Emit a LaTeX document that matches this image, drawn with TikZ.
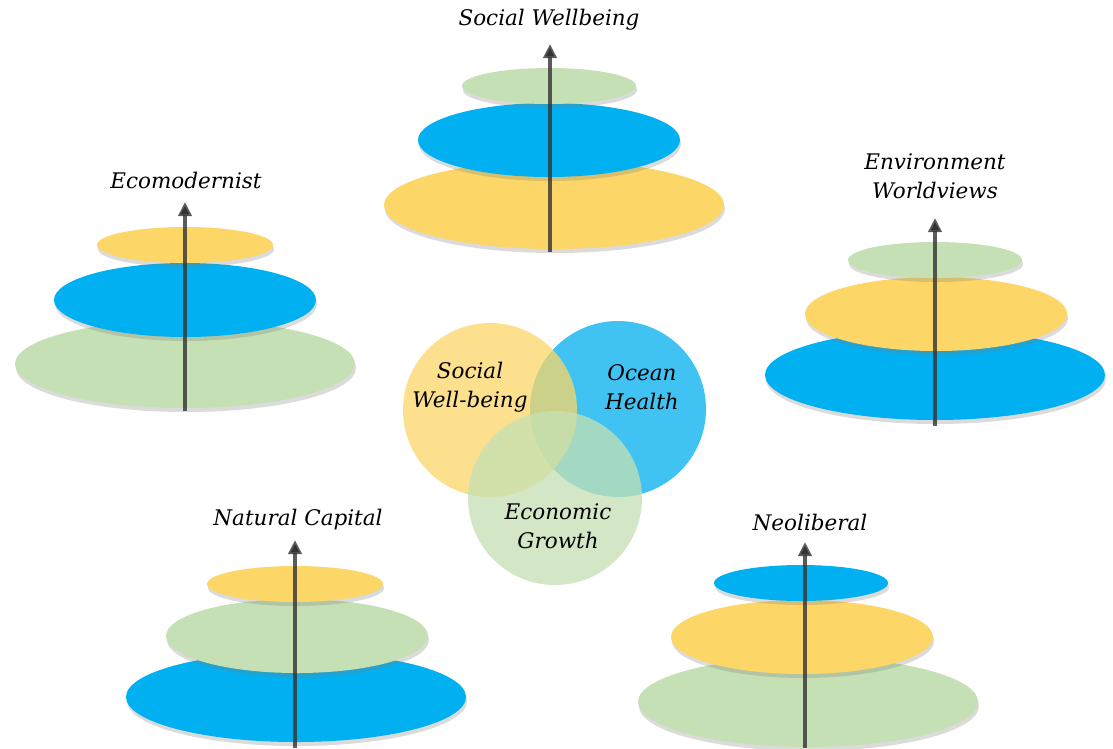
\documentclass[tikz,border=0pt]{standalone}
\usepackage{fontspec}
\setmainfont{DejaVu Serif}
\usetikzlibrary{arrows.meta,shadows}
\definecolor{discyellow}{HTML}{FCD667}
\definecolor{discblue}{HTML}{00B0F0}
\definecolor{discgreen}{HTML}{C5E0B4}
\definecolor{axisgray}{HTML}{333333}
\tikzset{
  disc/.style={drop shadow={opacity=0.28,shadow xshift=1pt,shadow yshift=-4pt}},
  axis/.style={draw=axisgray, line width=3.5pt, draw opacity=0.8, -{Triangle[length=14pt,width=13pt]}},
  title/.style={font=\fontsize{21.5}{29}\selectfont\itshape, align=center, inner sep=0pt},
  venn/.style={fill opacity=0.75},
}
\begin{document}
\begin{tikzpicture}[x=1pt,y=-1pt]
\useasboundingbox (0,0) rectangle (1113,748);
\fill[white] (0,0) rectangle (1113,748);

\fill[discyellow, disc] (554,205) ellipse (170pt and 44pt);
\fill[discblue, disc] (549,140) ellipse (131pt and 37pt);
\fill[discgreen, disc] (549,86) ellipse (87pt and 18pt);
\coordinate (sw-base) at (550,252);
\coordinate (sw-tip) at (550,44);
\draw[axis] (sw-base) -- (sw-tip);
\node[title] (sw-label) at (549,20) {Social Wellbeing};

\fill[discgreen, disc] (185,364) ellipse (170pt and 44pt);
\fill[discblue, disc] (185,300) ellipse (131pt and 37pt);
\fill[discyellow, disc] (185,245) ellipse (88pt and 18pt);
\coordinate (em-base) at (185,411);
\coordinate (em-tip) at (185,202);
\draw[axis] (em-base) -- (em-tip);
\node[title] (em-label) at (186,180) {Ecomodernist};

\fill[discblue, disc] (935,375) ellipse (170pt and 45pt);
\fill[discyellow, disc] (936,314) ellipse (131pt and 37pt);
\fill[discgreen, disc] (935,260) ellipse (87pt and 18pt);
\coordinate (ew-base) at (935,426);
\coordinate (ew-tip) at (935,218);
\draw[axis] (ew-base) -- (ew-tip);
\node[title] (ew-label) at (935,176) {Environment\\Worldviews};

\fill[discblue, disc] (296,697) ellipse (170pt and 45pt);
\fill[discgreen, disc] (297,636) ellipse (131pt and 37pt);
\fill[discyellow, disc] (295,584) ellipse (88pt and 18pt);
\coordinate (nc-base) at (295,748);
\coordinate (nc-tip) at (295,540);
\draw[axis] (nc-base) -- (nc-tip);
\node[title] (nc-label) at (298,520) {Natural Capital};

\fill[discgreen, disc] (808,702) ellipse (170pt and 45pt);
\fill[discyellow, disc] (802,637) ellipse (131pt and 37pt);
\fill[discblue, disc] (801,583) ellipse (87pt and 18pt);
\coordinate (nl-base) at (805,748);
\coordinate (nl-tip) at (805,542);
\draw[axis] (nl-base) -- (nl-tip);
\node[title] (nl-label) at (810,522) {Neoliberal};

\fill[discblue, venn] (618,409) ellipse (88pt and 88pt);
\fill[discyellow, venn] (490,410) ellipse (87pt and 87pt);
\fill[discgreen, venn] (555,498) ellipse (87pt and 87pt);
\node[title] (sw-venn) at (470,387) {Social\\Well-being};
\node[title] (oh-venn) at (642,387) {Ocean\\Health};
\node[title] (eg-venn) at (558,526) {Economic\\Growth};
\end{tikzpicture}
\end{document}
